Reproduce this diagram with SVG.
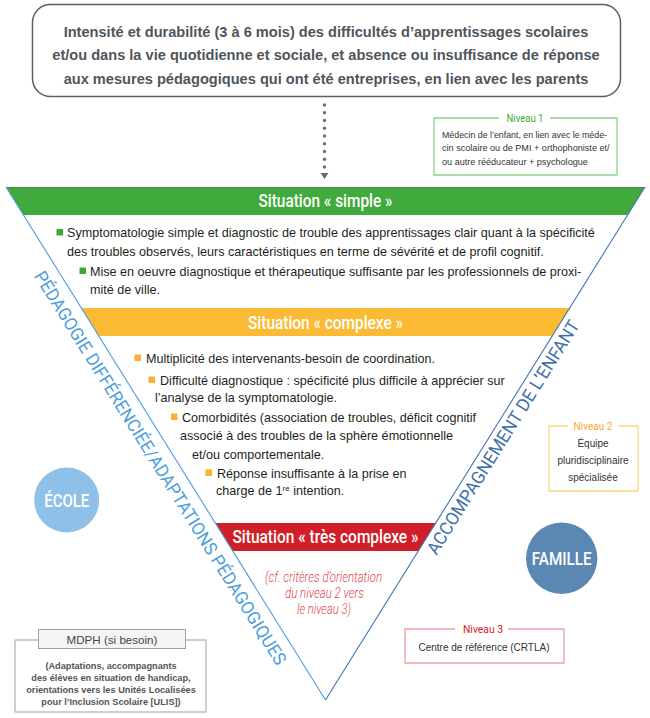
<svg xmlns="http://www.w3.org/2000/svg" width="650" height="718" viewBox="0 0 650 718">
<style>
.body{font-family:"Liberation Sans",Arial,sans-serif;font-size:12.6px;fill:#231f20}
.top{font-family:"Liberation Sans",Arial,sans-serif;font-size:14.6px;font-weight:bold;fill:#50555c;text-anchor:middle}
.head{font-family:Roboto,"Liberation Sans",sans-serif;font-size:18px;font-weight:500;fill:#ffffff;text-anchor:middle}
.diag{font-family:Roboto,"Liberation Sans",sans-serif;font-size:18px}
.lvl{font-family:Roboto,"Liberation Sans",sans-serif;font-size:11.5px;text-anchor:middle}
.small{font-family:"Liberation Sans",Arial,sans-serif;font-size:9.1px;fill:#333333}
.mid{font-family:"Liberation Sans",Arial,sans-serif;font-size:10px;fill:#333333;text-anchor:middle}
.red{font-family:Roboto,"Liberation Sans",sans-serif;font-size:14px;font-weight:300;font-style:italic;fill:#e4464c;text-anchor:middle}
.circ{font-family:Roboto,"Liberation Sans",sans-serif;font-size:18px;font-weight:500;fill:#ffffff;text-anchor:middle}
.mdph{font-family:"Liberation Sans",Arial,sans-serif;font-size:9.2px;font-weight:bold;fill:#555555;text-anchor:middle}
.gb{fill:#3aaa35}
.yb{fill:#fbb034}
</style>

<g id="top-box">
<rect x="32.5" y="4.5" width="588" height="92" rx="18" fill="#ffffff" stroke="#5b6066" stroke-width="1.5"/>
<text class="top" x="326" y="36.5">Intensité et durabilité (3 à 6 mois) des difficultés d’apprentissages scolaires</text>
<text class="top" x="326" y="60">et/ou dans la vie quotidienne et sociale, et absence ou insuffisance de réponse</text>
<text class="top" x="326" y="83.5">aux mesures pédagogiques qui ont été entreprises, en lien avec les parents</text>
</g>

<g id="connectors" fill="#6d6e71">
<circle cx="324.5" cy="105" r="1.7"/>
<circle cx="324.5" cy="112.75" r="1.7"/>
<circle cx="324.5" cy="120.5" r="1.7"/>
<circle cx="324.5" cy="128.25" r="1.7"/>
<circle cx="324.5" cy="136" r="1.7"/>
<circle cx="324.5" cy="143.75" r="1.7"/>
<circle cx="324.5" cy="151.5" r="1.7"/>
<circle cx="324.5" cy="159.25" r="1.7"/>
<circle cx="324.5" cy="167" r="1.7"/>
<polygon points="320.5,173 328.5,173 324.5,179"/>
</g>

<g id="niveau1">
<path d="M499,118 H434 V175 H617 V118 H550" fill="none" stroke="#8ed18b" stroke-width="1.3"/>
<text class="lvl" x="525" y="121.5" fill="#3aaa35" textLength="37" lengthAdjust="spacingAndGlyphs">Niveau 1</text>
<text class="small" x="442" y="137.5" textLength="165" lengthAdjust="spacingAndGlyphs">Médecin de l’enfant, en lien avec le méde-</text>
<text class="small" x="442" y="151">cin scolaire ou de PMI + orthophoniste et/</text>
<text class="small" x="442" y="164.5">ou autre rééducateur + psychologue</text>
</g>

<g id="situation-simple">
<polygon points="6,187 645,187 627.6,215 23.4,215" fill="#40ab3c"/>
<line x1="6" y1="187.5" x2="645" y2="187.5" stroke="#4f7f4c" stroke-width="1"/>
<text class="head" x="325.5" y="207" textLength="134" lengthAdjust="spacingAndGlyphs">Situation « simple »</text>
<rect class="gb" x="56.5" y="229" width="6.5" height="6.5"/>
<text class="body" x="67" y="237">Symptomatologie simple et diagnostic de trouble des apprentissages clair quant à la spécificité</text>
<text class="body" x="67" y="256">des troubles observés, leurs caractéristiques en terme de sévérité et de profil cognitif.</text>
<rect class="gb" x="79.5" y="267.5" width="6.5" height="6.5"/>
<text class="body" x="90" y="276">Mise en oeuvre diagnostique et thérapeutique suffisante par les professionnels de proxi-</text>
<text class="body" x="90" y="293.5">mité de ville.</text>
</g>

<g id="situation-complexe">
<polygon points="81.4,308 569.6,308 552.2,336 98.8,336" fill="#fbba34"/>
<text class="head" x="325.5" y="328.5" textLength="155" lengthAdjust="spacingAndGlyphs">Situation « complexe »</text>
<rect class="yb" x="134.5" y="354.5" width="6.5" height="6.5"/>
<text class="body" x="146" y="362.5">Multiplicité des intervenants-besoin de coordination.</text>
<rect class="yb" x="148.5" y="376.5" width="6.5" height="6.5"/>
<text class="body" x="160" y="384.5">Difficulté diagnostique : spécificité plus difficile à apprécier sur</text>
<text class="body" x="155" y="402">l’analyse de la symptomatologie.</text>
<rect class="yb" x="171" y="413.5" width="6.5" height="6.5"/>
<text class="body" x="182" y="421.5">Comorbidités (association de troubles, déficit cognitif</text>
<text class="body" x="180" y="440">associé à des troubles de la sphère émotionnelle</text>
<text class="body" x="192" y="459">et/ou comportementale.</text>
<rect class="yb" x="205.5" y="469.5" width="6.5" height="6.5"/>
<text class="body" x="217" y="477.5">Réponse insuffisante à la prise en</text>
<text class="body" x="216" y="495">charge de 1<tspan font-size="8" dy="-4.5">re</tspan><tspan dy="4.5"> intention.</tspan></text>
</g>

<g id="situation-tres-complexe">
<polygon points="215.3,523 435.7,523 418.3,551 232.7,551" fill="#d01f28"/>
<text class="head" x="325.5" y="542.5" textLength="186" lengthAdjust="spacingAndGlyphs">Situation « très complexe »</text>
<text class="red" x="323.5" y="582" textLength="117" lengthAdjust="spacingAndGlyphs">(cf. critères d’orientation</text>
<text class="red" x="324.5" y="598" textLength="79" lengthAdjust="spacingAndGlyphs">du niveau 2 vers</text>
<text class="red" x="324" y="614" textLength="54" lengthAdjust="spacingAndGlyphs">le niveau 3)</text>
</g>

<g id="triangle-outline" fill="none" stroke-width="1.1">
<line x1="6" y1="187" x2="325.5" y2="700" stroke="#4f9be0"/>
<line x1="645" y1="187" x2="325.5" y2="700" stroke="#3d74b3"/>
</g>

<g id="pedagogie-label">
<text class="diag" transform="translate(33.5,276) rotate(58.08)" fill="#4a9ddb" textLength="460" lengthAdjust="spacingAndGlyphs">PÉDAGOGIE DIFFÉRENCIÉE/ADAPTATIONS PÉDAGOGIQUES</text>
</g>

<g id="accompagnement-label">
<text class="diag" transform="translate(436.5,556) rotate(-58.08)" fill="#3d6fa6" textLength="272" lengthAdjust="spacingAndGlyphs">ACCOMPAGNEMENT DE L’ENFANT</text>
</g>

<g id="ecole">
<circle cx="66.7" cy="500" r="32.5" fill="#8fc0e7"/>
<text class="circ" x="66.7" y="506.5" textLength="45" lengthAdjust="spacingAndGlyphs">ÉCOLE</text>
</g>

<g id="famille">
<circle cx="561.7" cy="558.3" r="35.7" fill="#5b87b3"/>
<text class="circ" x="561.7" y="565" textLength="60" lengthAdjust="spacingAndGlyphs">FAMILLE</text>
</g>

<g id="niveau2">
<path d="M568,426 H549 V491 H638 V426 H618" fill="none" stroke="#fdd480" stroke-width="1.3"/>
<text class="lvl" x="593" y="429.5" fill="#f7a823" textLength="39" lengthAdjust="spacingAndGlyphs">Niveau 2</text>
<text class="mid" x="593" y="447">Équipe</text>
<text class="mid" x="593" y="464">pluridisciplinaire</text>
<text class="mid" x="593" y="481">spécialisée</text>
</g>

<g id="niveau3">
<path d="M455,629 H405 V663 H564 V629 H508" fill="none" stroke="#f09ea2" stroke-width="1.3"/>
<text class="lvl" x="483" y="632.5" fill="#d7182a" textLength="40" lengthAdjust="spacingAndGlyphs">Niveau 3</text>
<text class="mid" x="484" y="650.5">Centre de référence (CRTLA)</text>
</g>

<g id="mdph">
<rect x="15" y="640" width="191" height="72" fill="#ffffff" stroke="#a0a0a0" stroke-width="1"/>
<rect x="38.5" y="629.5" width="147" height="19" fill="#f4f4f4" stroke="#a0a0a0" stroke-width="1"/>
<text x="112" y="643.5" font-family="Liberation Sans, Arial, sans-serif" font-size="11.6" fill="#444444" text-anchor="middle">MDPH (si besoin)</text>
<text class="mdph" x="111" y="669">(Adaptations, accompagnants</text>
<text class="mdph" x="111" y="681">des élèves en situation de handicap,</text>
<text class="mdph" x="111" y="693">orientations vers les Unités Localisées</text>
<text class="mdph" x="111" y="705">pour l’Inclusion Scolaire [ULIS])</text>
</g>
</svg>
